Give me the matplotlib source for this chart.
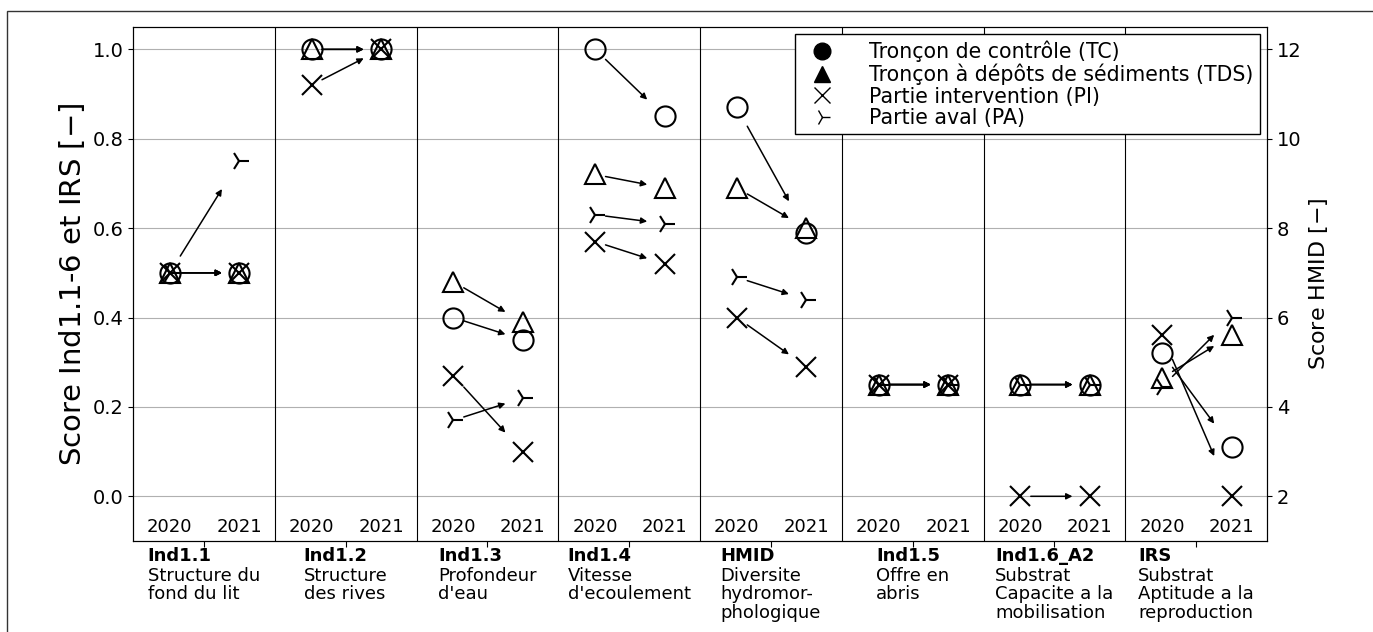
import numpy as np
import matplotlib.pyplot as plt
from matplotlib.lines import Line2D
from matplotlib.patches import Rectangle
from matplotlib.offsetbox import TextArea, VPacker, AnnotationBbox

nan = np.nan

# indicateurs (HMID est sur l'axe de droite)
indicators = ['Ind1.1', 'Ind1.2', 'Ind1.3', 'Ind1.4', 'HMID', 'Ind1.5', 'Ind1.6_A2', 'IRS']
descriptions = ['Structure du\nfond du lit', 'Structure\ndes rives', 'Profondeur\nd\'eau',
                'Vitesse\nd\'ecoulement', 'Diversite\nhydromor-\nphologique', 'Offre en\nabris',
                'Substrat\nCapacite a la\nmobilisation', 'Substrat\nAptitude a la\nreproduction']
years = ['2020', '2021']
hmid_index = 4

tc_2020 = [0.5, 1.0, 0.40, 1.0, 10.7, 0.25, 0.25, 0.32]
tc_2021 = [0.5, 1.0, 0.35, 0.85, 7.9, 0.25, 0.25, 0.11]
tds_2020 = [0.5, 1.0, 0.48, 0.72, 8.9, 0.25, 0.25, 0.265]
tds_2021 = [0.5, 1.0, 0.39, 0.69, 8.0, 0.25, 0.25, 0.36]
pi_2020 = [0.5, 0.92, 0.27, 0.57, 6.0, 0.25, 0.0, 0.36]
pi_2021 = [0.5, 1.0, 0.10, 0.52, 4.9, 0.25, 0.0, 0.0]
pa_2020 = [0.5, nan, 0.17, 0.63, 6.9, 0.25, 0.25, 0.245]
pa_2021 = [0.75, nan, 0.22, 0.61, 6.4, 0.25, 0.25, 0.40]

series = [
    ('Tronçon de contrôle (TC)', 'o', tc_2020, tc_2021),
    ('Tronçon à dépôts de sédiments (TDS)', '^', tds_2020, tds_2021),
    ('Partie intervention (PI)', 'x', pi_2020, pi_2021),
    ('Partie aval (PA)', '4', pa_2020, pa_2021),
]

W, H = 1373, 632
fig = plt.figure(figsize=(W / 100, H / 100), dpi=100)
ax = fig.add_axes([133 / W, 1 - 541 / H, (1267 - 133) / W, (541 - 27) / H])
ax2 = ax.twinx()

ax.set_xlim(0, len(indicators))
ax.set_ylim(-0.1, 1.05)
ax2.set_ylim(1, 12.5)

x_a = 0.26  # position 2020 dans le panneau
x_b = 0.75  # position 2021

for name, mk, v0, v1 in series:
    for i in range(len(indicators)):
        a = ax2 if i == hmid_index else ax
        y0, y1 = v0[i], v1[i]
        x0, x1 = i + x_a, i + x_b
        if not np.isnan(y0):
            a.plot(x0, y0, marker=mk, ms=14.5, mfc='none', mec='black', mew=1.5, ls='none', zorder=3)
        if not np.isnan(y1):
            a.plot(x1, y1, marker=mk, ms=14.5, mfc='none', mec='black', mew=1.5, ls='none', zorder=3)
        if not (np.isnan(y0) or np.isnan(y1)):
            dx, dy = x1 - x0, y1 - y0
            a.annotate('', xy=(x0 + 0.75 * dx, y0 + 0.75 * dy),
                       xytext=(x0 + 0.15 * dx, y0 + 0.15 * dy),
                       arrowprops=dict(arrowstyle='-|>', color='black', lw=1.1,
                                       mutation_scale=9, shrinkA=0, shrinkB=0),
                       zorder=3)

for i in range(1, len(indicators)):
    ax.axvline(i, color='black', lw=0.8, zorder=2)

for i in range(len(indicators)):
    ax.text(i + x_a, -0.068, years[0], ha='center', va='center', fontsize=13)
    ax.text(i + x_b, -0.068, years[1], ha='center', va='center', fontsize=13)

ax.set_yticks(np.arange(0, 1.01, 0.2))
ax2.set_yticks(np.arange(2, 12.1, 2))
ax.tick_params(axis='y', labelsize=14)
ax2.tick_params(axis='y', labelsize=14)
ax.tick_params(axis='x', length=4)
ax.yaxis.grid(True, color='#b0b0b0', lw=0.8, zorder=0)
ax.set_axisbelow(True)

# etiquettes du bas : nom en gras + description, alignees a gauche, centrees sur le panneau
ax.set_xticks(np.arange(len(indicators)) + 0.5)
ax.set_xticklabels([''] * len(indicators))
for i, (ind, d) in enumerate(zip(indicators, descriptions)):
    box = VPacker(children=[TextArea(ind, textprops=dict(fontsize=13, fontweight='bold')),
                            TextArea(d, textprops=dict(fontsize=13, linespacing=1.05))],
                  align='left', pad=0, sep=1)
    ab = AnnotationBbox(box, (i + 0.5, 0), xycoords=('data', 'axes fraction'),
                        xybox=(0, -4.5), boxcoords='offset points', box_alignment=(0.5, 1),
                        frameon=False, pad=0, annotation_clip=False)
    ax.add_artist(ab)

ax.set_ylabel('Score Ind1.1-6 et IRS [$-$]', fontsize=21)
ax2.set_ylabel('Score HMID [$-$]', fontsize=16)

handles = [Line2D([], [], marker=mk, color='black', mfc='black', mec='black', ls='none', ms=12)
           for name, mk, v0, v1 in series]
ax2.legend(handles, [s[0] for s in series], loc='upper right', fontsize=14.8,
           fancybox=False, edgecolor='black', framealpha=1, borderaxespad=0.35,
           labelspacing=0.08, handletextpad=1.3, borderpad=0.3)

fig.patches.append(Rectangle((7 / W, -0.5), 1.5, 1.5 - 11 / H, transform=fig.transFigure,
                             fill=False, ec='#333333', lw=1))

fig.savefig('out.png', dpi=100)
